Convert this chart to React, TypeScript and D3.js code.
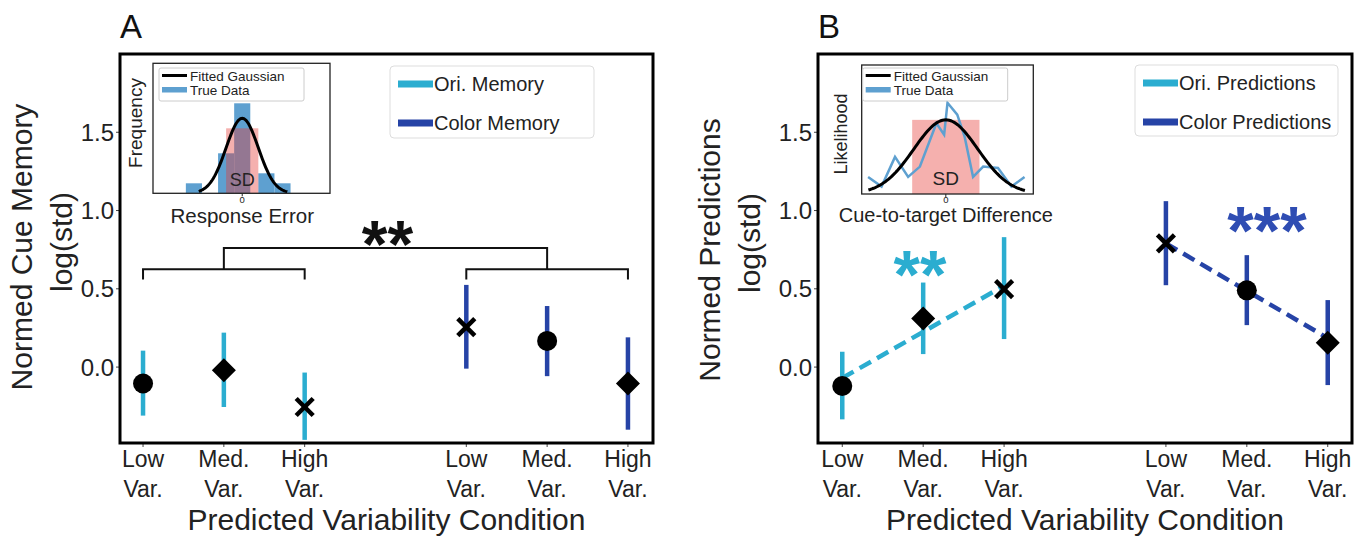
import React from "react";
import * as d3 from "d3";

// ---------- data ----------
const xIndex = [0, 1, 2, 4, 5, 6];
const tickTop = ["Low", "Med.", "High", "Low", "Med.", "High"];
const tickBottom = ["Var.", "Var.", "Var.", "Var.", "Var.", "Var."];
const yTicks = [0, 0.5, 1.0, 1.5];

const oriMarkers = ["circle", "diamond", "x"];
const colMarkers = ["x", "circle", "diamond"];

// Panel A: memory
const memOriMean = [-0.105, -0.02, -0.255];
const memOriLo = [-0.31, -0.255, -0.465];
const memOriHi = [0.105, 0.22, -0.035];
const memColMean = [0.255, 0.167, -0.105];
const memColLo = [-0.01, -0.058, -0.4];
const memColHi = [0.525, 0.39, 0.19];

// significance bracket levels (panel A)
const bracketLow = 0.625;
const bracketLeg = 0.56;
const bracketHigh = 0.76;

// Panel B: predictions
const predOriMean = [-0.121, 0.31, 0.498];
const predOriLo = [-0.334, 0.083, 0.179];
const predOriHi = [0.098, 0.54, 0.83];
const predColMean = [0.79, 0.49, 0.155];
const predColLo = [0.523, 0.268, -0.115];
const predColHi = [1.06, 0.715, 0.428];
const predOriFit = [-0.07, 0.225, 0.52];
const predColFit = [0.79, 0.487, 0.185];

// Inset A histogram (response error)
const histLeft = [-3.5, -1.5, -0.5, 1.0, 2.0];
const histRight = [-2.5, -0.5, 0.5, 2.0, 3.0];
const histCount = [1, 4, 9, 2, 1];
const gaussA = { peak: 7.5, sd: 1, from: -2.7, to: 2.8 };
const sdA = { lo: -1, hi: 1, top: 6.5 };

// Inset B likelihood (true data)
const trueX = [-2.31, -1.91, -1.51, -1.12, -0.77, -0.28, -0.05, 0.05, 0.34, 0.56, 0.81, 1.11, 1.55, 1.95, 2.34];
const trueY = [0.23, 0.1, 0.5, 0.23, 0.37, 0.955, 0.8, 1.23, 1.07, 0.77, 0.23, 0.37, 0.35, 0.1, 0.23];
const gaussB = { peak: 1, sd: 0.95, from: -2.3, to: 2.35 };
const sdB = { lo: -1, hi: 1, top: 1.0 };

// ---------- style ----------
const FONT = "'Liberation Sans', Arial, Helvetica, sans-serif";
const CYAN = "#2badd0";
const BLUE = "#2643a6";
const BLUE_STAR = "#2f4db3";
const HIST = "#5ea0d0";
const PINK = "rgba(229,57,53,0.4)";

function gaussPts(g: { peak: number; sd: number; from: number; to: number }) {
  return d3.range(g.from, g.to + 1e-9, 0.05).map((x) => [x, g.peak * Math.exp((-x * x) / (2 * g.sd * g.sd))] as [number, number]);
}

function Marker({ type, x, y }: { type: string; x: number; y: number }) {
  if (type === "circle") return <circle cx={x} cy={y} r={10} fill="#000" />;
  if (type === "diamond")
    return <path d={`M${x},${y - 12}L${x + 12},${y}L${x},${y + 12}L${x - 12},${y}Z`} fill="#000" />;
  const s = 8.5;
  return (
    <g stroke="#000" strokeWidth={4.5}>
      <line x1={x - s} y1={y - s} x2={x + s} y2={y + s} />
      <line x1={x - s} y1={y + s} x2={x + s} y2={y - s} />
    </g>
  );
}

type PanelProps = {
  left: number;
  right: number;
  xDomain: [number, number];
  letter: string;
  ylabel: string;
  ylabelX: [number, number];
  ylabelY: [number, number];
  oriMean: number[];
  oriLo: number[];
  oriHi: number[];
  colMean: number[];
  colLo: number[];
  colHi: number[];
  overlay?: (x: d3.ScaleLinear<number, number>, y: d3.ScaleLinear<number, number>) => React.ReactNode;
  underlay?: (x: d3.ScaleLinear<number, number>, y: d3.ScaleLinear<number, number>) => React.ReactNode;
};

const TOP = 54;
const BOTTOM = 443;

function Panel(p: PanelProps) {
  const x = d3.scaleLinear().domain(p.xDomain).range([p.left, p.right]);
  const y = d3.scaleLinear().domain([-0.485, 2.0]).range([BOTTOM, TOP]);
  const groups = [
    { mean: p.oriMean, lo: p.oriLo, hi: p.oriHi, color: CYAN, markers: oriMarkers, idx: xIndex.slice(0, 3) },
    { mean: p.colMean, lo: p.colLo, hi: p.colHi, color: BLUE, markers: colMarkers, idx: xIndex.slice(3) },
  ];
  const cx = (p.left + p.right) / 2;
  return (
    <g fontFamily={FONT}>
      <text x={p.left} y={38} fontSize={33} fill="#111">{p.letter}</text>
      {yTicks.map((t) => (
        <g key={t}>
          <line x1={p.left - 4} x2={p.left} y1={y(t)} y2={y(t)} stroke="#444" strokeWidth={1} />
          <text x={p.left - 6} y={y(t) + 8.5} fontSize={24} textAnchor="end" fill="#222">{d3.format(".1f")(t)}</text>
        </g>
      ))}
      {xIndex.map((xi, i) => (
        <g key={i}>
          <line x1={x(xi)} x2={x(xi)} y1={BOTTOM} y2={BOTTOM + 4} stroke="#444" strokeWidth={1} />
          <text x={x(xi)} y={467} fontSize={23} textAnchor="middle" fill="#222">{tickTop[i]}</text>
          <text x={x(xi)} y={497} fontSize={23} textAnchor="middle" fill="#222">{tickBottom[i]}</text>
        </g>
      ))}
      <text x={cx} y={530} fontSize={30} textAnchor="middle" fill="#222">Predicted Variability Condition</text>
      <text transform={`translate(${p.ylabelX[0]},${p.ylabelY[0]}) rotate(-90)`} fontSize={30} textAnchor="middle" fill="#222">{p.ylabel}</text>
      <text transform={`translate(${p.ylabelX[1]},${p.ylabelY[1]}) rotate(-90)`} fontSize={30} textAnchor="middle" fill="#222">log(std)</text>
      {p.underlay && p.underlay(x, y)}
      {groups.map((g, gi) =>
        g.mean.map((m, i) => (
          <line key={`e${gi}${i}`} x1={x(g.idx[i])} x2={x(g.idx[i])} y1={y(g.lo[i])} y2={y(g.hi[i])} stroke={g.color} strokeWidth={4.5} />
        ))
      )}
      {p.overlay && p.overlay(x, y)}
      {groups.map((g, gi) =>
        g.mean.map((m, i) => <Marker key={`m${gi}${i}`} type={g.markers[i]} x={x(g.idx[i])} y={y(m)} />)
      )}
      <rect x={p.left} y={TOP} width={p.right - p.left} height={BOTTOM - TOP} fill="none" stroke="#000" strokeWidth={3} />
    </g>
  );
}

function Legend({ x0, y0, w, h, labels }: { x0: number; y0: number; w: number; h: number; labels: string[] }) {
  return (
    <g fontFamily={FONT}>
      <rect x={x0} y={y0} width={w} height={h} rx={4} fill="#fff" stroke="#ddd" strokeWidth={1} />
      {labels.map((l, i) => (
        <g key={l}>
          <line x1={x0 + 8} x2={x0 + 43} y1={y0 + 18 + i * 39} y2={y0 + 18 + i * 39} stroke={i === 0 ? CYAN : BLUE} strokeWidth={7} />
          <text x={x0 + 44} y={y0 + 25 + i * 39} fontSize={20} fill="#222">{l}</text>
        </g>
      ))}
    </g>
  );
}

function InsetLegend({ x0, y0 }: { x0: number; y0: number }) {
  return (
    <g fontFamily={FONT}>
      <rect x={x0} y={y0} width={145} height={33} rx={2} fill="rgba(255,255,255,0.85)" stroke="#ccc" strokeWidth={1} />
      <line x1={x0 + 3} x2={x0 + 28} y1={y0 + 7.5} y2={y0 + 7.5} stroke="#000" strokeWidth={3} />
      <text x={x0 + 31} y={y0 + 12.5} fontSize={13.5} fill="#222">Fitted Gaussian</text>
      <rect x={x0 + 3} y={y0 + 19} width={25} height={5.5} fill={HIST} />
      <text x={x0 + 31} y={y0 + 27} fontSize={13.5} fill="#222">True Data</text>
    </g>
  );
}

function InsetA() {
  const L = 153, R = 330, T = 63.3, B = 193.3;
  const x = d3.scaleLinear().domain([-5.54, 5.45]).range([L, R]);
  const y = d3.scaleLinear().domain([0, 13]).range([B, T]);
  const line = d3.line<[number, number]>().x((d) => x(d[0])).y((d) => y(d[1]));
  return (
    <g fontFamily={FONT}>
      <rect x={L} y={T} width={R - L} height={B - T} fill="#fff" />
      {histCount.map((c, i) => (
        <rect key={i} x={x(histLeft[i])} y={y(c)} width={x(histRight[i]) - x(histLeft[i])} height={y(0) - y(c)} fill={HIST} />
      ))}
      <rect x={x(sdA.lo)} y={y(sdA.top)} width={x(sdA.hi) - x(sdA.lo)} height={y(0) - y(sdA.top)} fill={PINK} />
      <path d={line(gaussPts(gaussA)) || ""} fill="none" stroke="#000" strokeWidth={3} />
      <text x={x(0)} y={186} fontSize={18} textAnchor="middle" fill="#222">SD</text>
      <rect x={L} y={T} width={R - L} height={B - T} fill="none" stroke="#222" strokeWidth={1.3} />
      <line x1={x(0)} x2={x(0)} y1={B} y2={B + 3} stroke="#222" strokeWidth={1} />
      <text x={x(0)} y={202.5} fontSize={9.5} textAnchor="middle" fill="#222">0</text>
      <text x={x(0)} y={223} fontSize={20.5} textAnchor="middle" fill="#222">Response Error</text>
      <text transform={`translate(141.5,123) rotate(-90)`} fontSize={19} textAnchor="middle" fill="#222">Frequency</text>
      <InsetLegend x0={159} y0={68} />
    </g>
  );
}

function InsetB() {
  const L = 861.7, R = 1033.3, T = 65, B = 194;
  const x = d3.scaleLinear().domain([-2.5, 2.6]).range([L, R]);
  const y = d3.scaleLinear().domain([0, 1.74]).range([B, T]);
  const line = d3.line<[number, number]>().x((d) => x(d[0])).y((d) => y(d[1]));
  const truePts = trueX.map((v, i) => [v, trueY[i]] as [number, number]);
  return (
    <g fontFamily={FONT}>
      <rect x={L} y={T} width={R - L} height={B - T} fill="#fff" />
      <rect x={x(sdB.lo)} y={y(sdB.top)} width={x(sdB.hi) - x(sdB.lo)} height={y(0) - y(sdB.top)} fill={PINK} />
      <path d={line(truePts) || ""} fill="none" stroke={HIST} strokeWidth={2.5} />
      <path d={line(gaussPts(gaussB)) || ""} fill="none" stroke="#000" strokeWidth={3} />
      <text x={x(0)} y={185} fontSize={19} textAnchor="middle" fill="#222">SD</text>
      <rect x={L} y={T} width={R - L} height={B - T} fill="none" stroke="#222" strokeWidth={1.3} />
      <line x1={x(0)} x2={x(0)} y1={B} y2={B + 3} stroke="#222" strokeWidth={1} />
      <text x={x(0)} y={202.5} fontSize={9.5} textAnchor="middle" fill="#222">0</text>
      <text x={x(0)} y={222} fontSize={20} textAnchor="middle" fill="#222">Cue-to-target Difference</text>
      <text transform={`translate(846.5,134) rotate(-90)`} fontSize={18} textAnchor="middle" fill="#222">Likelihood</text>
      <InsetLegend x0={862.7} y0={68} />
    </g>
  );
}

export default function App() {
  return (
    <svg width={1370} height={540} style={{ position: "absolute", left: 0, top: 0, background: "#fff" }}>
      <rect width={1370} height={540} fill="#fff" />
      <Panel
        left={120}
        right={653}
        xDomain={[-0.285, 6.31]}
        letter="A"
        ylabel="Normed Cue Memory"
        ylabelX={[32, 72]}
        ylabelY={[247, 242]}
        oriMean={memOriMean}
        oriLo={memOriLo}
        oriHi={memOriHi}
        colMean={memColMean}
        colLo={memColLo}
        colHi={memColHi}
        underlay={(x, y) => (
          <g stroke="#111" strokeWidth={2} fill="none">
            <path d={`M${x(xIndex[0])},${y(bracketLeg)}V${y(bracketLow)}H${x(xIndex[2])}V${y(bracketLeg)}`} />
            <path d={`M${x(xIndex[3])},${y(bracketLeg)}V${y(bracketLow)}H${x(xIndex[5])}V${y(bracketLeg)}`} />
            <path d={`M${x(xIndex[1])},${y(bracketLow)}V${y(bracketHigh)}H${x(xIndex[4])}V${y(bracketLow)}`} />
            <text x={(x(xIndex[1]) + x(xIndex[4])) / 2 + 2} y={267} fontSize={66} fontWeight="bold" textAnchor="middle" fill="#111" stroke="none" fontFamily={FONT}>**</text>
          </g>
        )}
      />
      <Panel
        left={818}
        right={1352}
        xDomain={[-0.3, 6.3]}
        letter="B"
        ylabel="Normed Predictions"
        ylabelX={[720, 760]}
        ylabelY={[250, 243]}
        oriMean={predOriMean}
        oriLo={predOriLo}
        oriHi={predOriHi}
        colMean={predColMean}
        colLo={predColLo}
        colHi={predColHi}
        underlay={() => (
          <g fontFamily={FONT} fontWeight="bold" fontSize={68} textAnchor="middle">
            <text x={920} y={298} fill={CYAN}>**</text>
            <text x={1267} y={254} fill={BLUE_STAR}>***</text>
          </g>
        )}
        overlay={(x, y) => (
          <g fill="none" strokeWidth={4.5} strokeDasharray="13 7">
            <path d={d3.line<number>().x((d, i) => x(xIndex[i])).y((d) => y(d))(predOriFit) || ""} stroke={CYAN} />
            <path d={d3.line<number>().x((d, i) => x(xIndex[i + 3])).y((d) => y(d))(predColFit) || ""} stroke={BLUE} />
          </g>
        )}
      />
      <Legend x0={390} y0={66} w={204} h={72} labels={["Ori. Memory", "Color Memory"]} />
      <Legend x0={1135} y0={65} w={203} h={71} labels={["Ori. Predictions", "Color Predictions"]} />
      <InsetA />
      <InsetB />
    </svg>
  );
}
